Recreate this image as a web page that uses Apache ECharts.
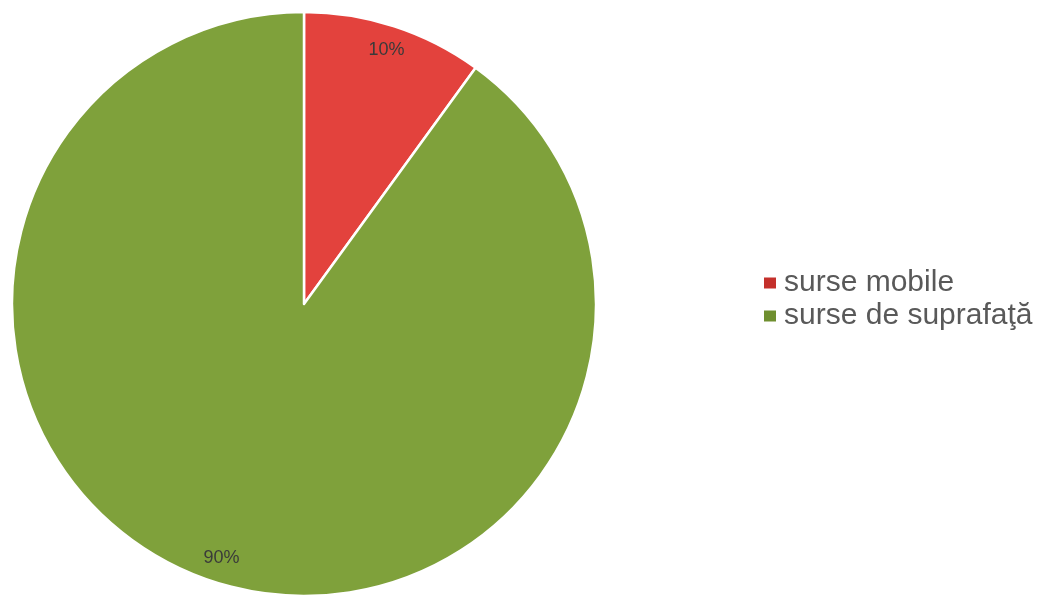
<!DOCTYPE html>
<html>
<head>
<meta charset="utf-8">
<script src="https://cdn.jsdelivr.net/npm/echarts@6/dist/echarts.min.js"></script>
<style>
  html, body { margin: 0; padding: 0; background: #ffffff; }
  #chart { width: 1046px; height: 600px; }
</style>
</head>
<body>
<div id="chart"></div>
<script>
// Source shares of emissions
const categories = ['surse mobile', 'surse de suprafaţă'];
const shares = [10, 90];
const colors = ['#E3423D', '#7FA13B'];
const legendColors = ['#C4302B', '#6F8F2F'];

const pieData = categories.map((name, i) => ({
  name: name,
  value: shares[i],
  itemStyle: { color: colors[i] }
}));

// Transparent outer ring that carries the percentage labels near the rim
const labelData = categories.map((name, i) => ({
  name: name,
  value: shares[i],
  itemStyle: { color: 'rgba(0,0,0,0)' }
}));

const chart = echarts.init(document.getElementById('chart'), null, { renderer: 'canvas' });
chart.setOption({
  backgroundColor: '#ffffff',
  animation: false,
  legend: {
    orient: 'vertical',
    left: 762,
    top: 268,
    padding: 0,
    itemWidth: 14,
    itemHeight: 13,
    itemGap: 3,
    icon: 'rect',
    data: categories.map((name, i) => ({ name: name, itemStyle: { color: legendColors[i] } })),
    textStyle: {
      fontFamily: 'Liberation Sans, Arial, sans-serif',
      fontSize: 30,
      color: '#595959',
      padding: [0, 0, 0, 2]
    }
  },
  series: [
    {
      type: 'pie',
      center: [304, 304],
      radius: [0, 292],
      startAngle: 90,
      clockwise: true,
      data: pieData,
      label: { show: false },
      labelLine: { show: false },
      itemStyle: { borderColor: '#ffffff', borderWidth: 2.5 },
      emphasis: { disabled: true }
    },
    {
      type: 'pie',
      center: [304, 304],
      radius: [238, 290],
      startAngle: 90,
      clockwise: true,
      silent: true,
      legendHoverLink: false,
      data: labelData,
      label: {
        show: true,
        position: 'inside',
        formatter: '{c}%',
        fontFamily: 'Liberation Sans Narrow, Arial Narrow, Liberation Sans, sans-serif',
        fontSize: 18,
        color: '#3a3a3a'
      },
      labelLine: { show: false },
      emphasis: { disabled: true }
    }
  ]
});
</script>
</body>
</html>
